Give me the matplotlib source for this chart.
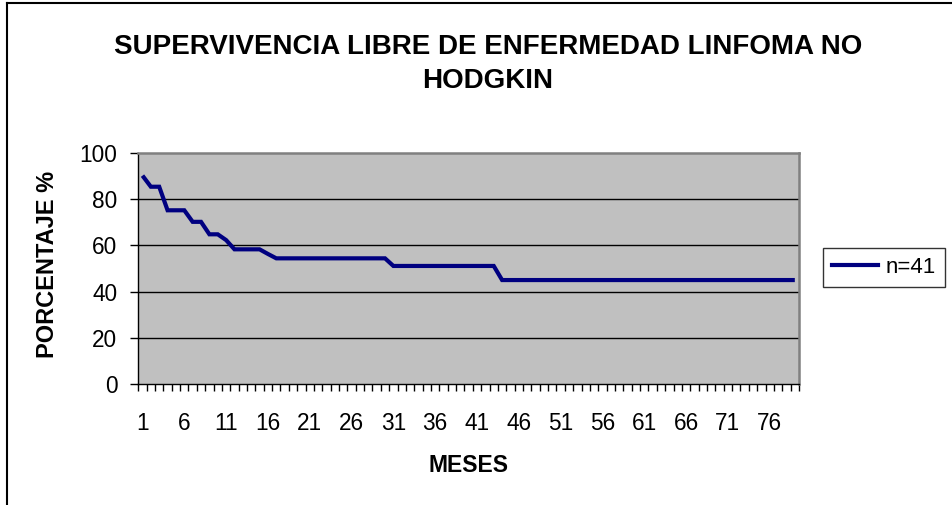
import matplotlib
matplotlib.use("Agg")
import matplotlib.pyplot as plt
from matplotlib.lines import Line2D
import numpy as np

# ---- data ----
meses = list(range(1, 80))
supervivencia = [
    90.2, 85.4, 85.4, 75.2, 75.2, 75.2, 70.2, 70.2, 64.8, 64.8,
    62.3, 58.3, 58.3, 58.3, 58.3, 56.3, 54.4, 54.4, 54.4, 54.4,
    54.4, 54.4, 54.4, 54.4, 54.4, 54.4, 54.4, 54.4, 54.4, 54.4,
    51.1, 51.1, 51.1, 51.1, 51.1, 51.1, 51.1, 51.1, 51.1, 51.1,
    51.1, 51.1, 51.1, 45.0, 45.0, 45.0, 45.0, 45.0, 45.0, 45.0,
    45.0, 45.0, 45.0, 45.0, 45.0, 45.0, 45.0, 45.0, 45.0, 45.0,
    45.0, 45.0, 45.0, 45.0, 45.0, 45.0, 45.0, 45.0, 45.0, 45.0,
    45.0, 45.0, 45.0, 45.0, 45.0, 45.0, 45.0, 45.0, 45.0,
]
xtick_labels = [str(m) for m in range(1, 80, 5)]
ytick_values = [0, 20, 40, 60, 80, 100]
serie_label = "n=41"
titulo = "SUPERVIVENCIA LIBRE DE ENFERMEDAD LINFOMA NO\nHODGKIN"
xlabel = "MESES"
ylabel = "PORCENTAJE %"

plt.rcParams['font.family'] = ['Liberation Sans', 'DejaVu Sans']

W, H = 953, 505
fig = plt.figure(figsize=(W / 100, H / 100), dpi=100)
fig.patch.set_facecolor('white')

L, R, T, B = 138.3, 799.0, 153.0, 384.0
ax = fig.add_axes([L / W, 1 - B / H, (R - L) / W, (B - T) / H])
ax.set_facecolor('#C0C0C0')

ax.plot(meses, supervivencia, color='#000080', lw=3.0, solid_joinstyle='miter',
        solid_capstyle='butt', label=serie_label, zorder=3)

ax.set_xlim(0.5, len(meses) + 0.5)
ax.set_ylim(0, 100)

# grid
for v in ytick_values[1:-1]:
    ax.axhline(v, color='black', lw=1.0, zorder=1)

# x axis: ticks between categories, labels every 5
ax.set_xticks(list(range(1, 80, 5)))
ax.set_xticklabels(xtick_labels)
ax.set_xticks(np.arange(0.5, len(meses) + 1, 1.0), minor=True)
ax.tick_params(axis='x', which='major', length=0, pad=20.5, labelsize=16.3)
ax.tick_params(axis='x', which='minor', length=5, width=1, direction='out', color='black')

ax.set_yticks(ytick_values)
ax.tick_params(axis='y', which='major', length=6, width=1, pad=9.0, labelsize=16.3, color='black')

for s in ['top', 'right']:
    ax.spines[s].set_color('#808080')
    ax.spines[s].set_linewidth(1.8)
for s in ['left', 'bottom']:
    ax.spines[s].set_color('black')
    ax.spines[s].set_linewidth(1.0)

# titles
fig.text(488 / W, 1 - 64 / H, titulo, ha='center', va='center', fontsize=20,
         fontweight='bold', linespacing=1.45)
fig.text(469 / W, 1 - 466 / H, xlabel, ha='center', va='center', fontsize=16.5,
         fontweight='bold')
fig.text(47.5 / W, 1 - 358 / H, ylabel, ha='center', va='bottom', rotation=90,
         fontsize=17, fontweight='bold')

# legend
handles = [Line2D([0], [0], color='#000080', lw=3.0)]
leg = fig.legend(handles, [serie_label], loc='upper left',
                 bbox_to_anchor=(822.7 / W, 1 - 248.3 / H),
                 bbox_transform=fig.transFigure, borderaxespad=0,
                 fontsize=16, frameon=True, fancybox=False, shadow=False,
                 handlelength=2.1, handletextpad=0.35, borderpad=0.4)
leg.get_frame().set_edgecolor('black')
leg.get_frame().set_linewidth(1.0)

# chart area border (clipped at right and bottom)
fig.add_artist(Line2D([6.5 / W, 6.5 / W], [0, 1 - 2.5 / H], color='black', lw=1.5,
                      transform=fig.transFigure))
fig.add_artist(Line2D([6.5 / W, 1], [1 - 2.5 / H, 1 - 2.5 / H], color='black', lw=1.5,
                      transform=fig.transFigure))

fig.savefig('out.png', dpi=100)
